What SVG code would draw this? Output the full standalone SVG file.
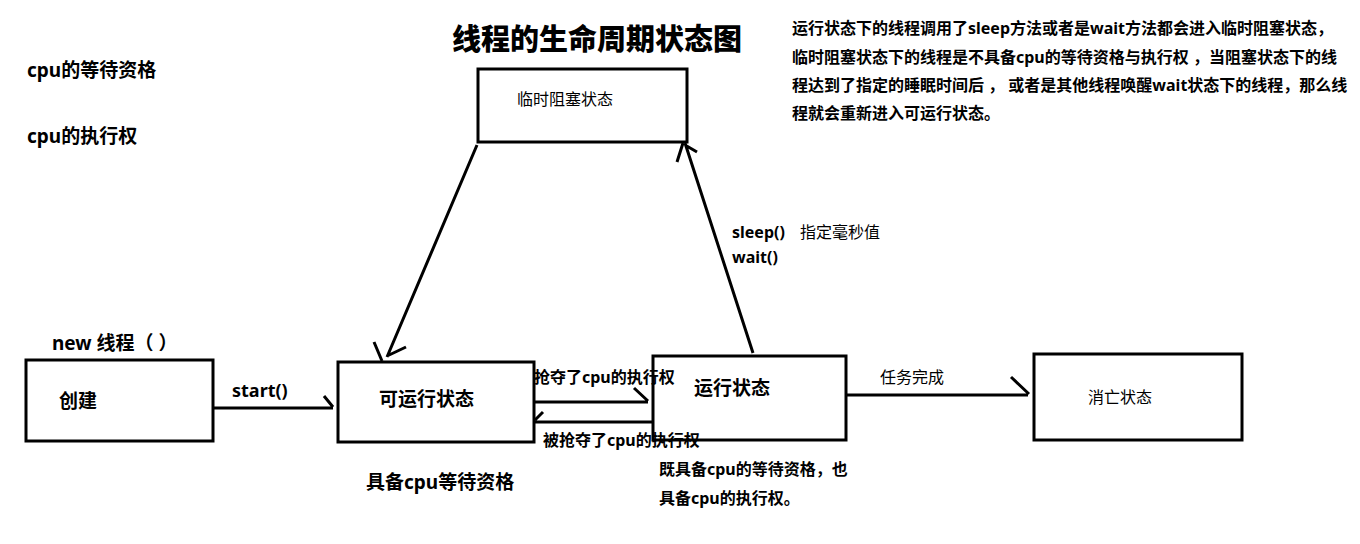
<svg xmlns="http://www.w3.org/2000/svg" width="1360" height="544" viewBox="0 0 1360 544">
<style>
text{font-family:"Noto Sans","Noto Sans CJK SC",sans-serif;fill:#000}
.cjk{font-family:"Noto Sans CJK SC","Noto Sans",sans-serif}
.b{font-weight:bold}
.r{font-weight:normal}
.box{fill:none;stroke:#000;stroke-width:3}
.ln{fill:none;stroke:#000;stroke-width:3;stroke-linecap:butt}
</style>
<rect width="1360" height="544" fill="#fff"/>
<text class="b" x="452" y="50" font-size="29" style="font-weight:900">线程的生命周期状态图</text>
<text class="b" x="27" y="77" font-size="19">cpu的等待资格</text>
<text class="b" x="27" y="143" font-size="19">cpu的执行权</text>
<g font-size="16" class="b cjk">
<text x="792" y="34">运行状态下的线程调用了sleep方法或者是wait方法都会进入临时阻塞状态，</text>
<text x="792" y="63">临时阻塞状态下的线程是不具备cpu的等待资格与执行权 ，当阻塞状态下的线</text>
<text x="792" y="91">程达到了指定的睡眠时间后 ， 或者是其他线程唤醒wait状态下的线程，那么线</text>
<text x="792" y="119">程就会重新进入可运行状态。</text>
</g>
<g id="node-block">
<rect class="box" x="478" y="69" width="209" height="73"/>
<text class="r" x="517" y="105" font-size="16">临时阻塞状态</text>
</g>
<g id="node-create">
<text class="b" x="52" y="350" font-size="19">new 线程（ ）</text>
<rect class="box" x="26" y="360" width="187" height="81"/>
<text class="b" x="59" y="408" font-size="19">创建</text>
</g>
<g id="node-runnable">
<rect class="box" x="338" y="362" width="196" height="80"/>
<text class="b" x="379" y="406" font-size="19">可运行状态</text>
<text class="b" x="366" y="489" font-size="19">具备cpu等待资格</text>
</g>
<g id="node-running">
<rect class="box" x="653" y="356" width="193" height="84"/>
<text class="b" x="694" y="395" font-size="19">运行状态</text>
<text class="b" x="659" y="475" font-size="16">既具备cpu的等待资格，也</text>
<text class="b" x="659" y="504" font-size="16">具备cpu的执行权。</text>
</g>
<g id="node-dead">
<rect class="box" x="1034" y="354" width="208" height="86"/>
<text class="r" x="1088" y="403" font-size="16">消亡状态</text>
</g>
<g id="connectors">
<path class="ln" d="M213 408H333M324 396L333 407"/>
<text class="b" x="232" y="397" font-size="18">start()</text>
<path class="ln" d="M534 402H648M634 388L648 401"/>
<text class="b" x="534" y="383" font-size="16">抢夺了cpu的执行权</text>
<path class="ln" d="M653 422H534M543 412L535 420"/>
<text class="b" x="543" y="446" font-size="16">被抢夺了cpu的执行权</text>
<path class="ln" d="M846 395H1028M1011 377L1029 394"/>
<text class="r" x="880" y="383" font-size="16">任务完成</text>
<path class="ln" d="M477 145L387 357M374 342L382 361M406 347L387 356"/>
<path class="ln" d="M753 353L685 143M677 162L683 143M685 145L697 152"/>
<text class="b" x="732" y="238" font-size="16">sleep()</text>
<text class="r" x="800" y="238" font-size="16">指定毫秒值</text>
<text class="b" x="732" y="263" font-size="16">wait()</text>
</g>
</svg>
